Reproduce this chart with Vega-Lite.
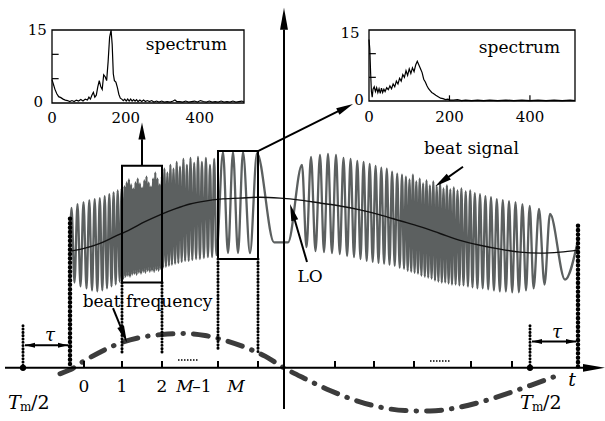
{
"$schema": "https://vega.github.io/schema/vega-lite/v6.json",
"width": 605, "height": 421,
"autosize": {"type": "fit", "contains": "padding"},
"padding": 0,
"background": "white",
"config": {"view": {"stroke": null}},
"datasets": {
"sig": [{"x":70,"y":123},{"x":71.5,"y":163},{"x":74.5,"y":87},{"x":77.5,"y":167},{"x":80.5,"y":83},{"x":83.5,"y":169},{"x":86.5,"y":81},{"x":89.3,"y":171},{"x":92,"y":79},{"x":94.7,"y":172},{"x":97.3,"y":78},{"x":99.8,"y":173},{"x":102.3,"y":79},{"x":104.7,"y":175},{"x":107,"y":81},{"x":109.3,"y":177},{"x":111.5,"y":83},{"x":113.6,"y":179},{"x":115.7,"y":85},{"x":117.7,"y":181},{"x":119.7,"y":88},{"x":121.6,"y":183},{"x":123.4,"y":91},
{"x":124.5,"y":185},{"x":125.6,"y":93},{"x":126.7,"y":189},{"x":127.8,"y":94},{"x":128.9,"y":192},{"x":130.0,"y":93},{"x":131.1,"y":187},{"x":132.2,"y":95},{"x":133.3,"y":183},{"x":134.4,"y":96},{"x":135.5,"y":189},{"x":136.6,"y":95},{"x":137.7,"y":193},{"x":138.8,"y":97},{"x":139.9,"y":188},{"x":141.0,"y":96},{"x":142.1,"y":184},{"x":143.2,"y":98},{"x":144.3,"y":191},{"x":145.4,"y":97},{"x":146.5,"y":195},{"x":147.6,"y":99},{"x":148.7,"y":189},{"x":149.8,"y":98},{"x":150.9,"y":185},{"x":152.0,"y":99},{"x":153.1,"y":193},{"x":154.2,"y":98},{"x":155.3,"y":199},{"x":156.4,"y":100},{"x":157.5,"y":193},{"x":158.6,"y":99},{"x":159.7,"y":187},{"x":160.8,"y":101},{"x":161.9,"y":195},{"x":163.0,"y":102},
{"x":164.4,"y":203},{"x":165.9,"y":103},{"x":167.4,"y":199},{"x":168.9,"y":104},{"x":170.4,"y":207},{"x":171.9,"y":105},{"x":173.5,"y":203},{"x":175.1,"y":106},{"x":176.7,"y":210},{"x":178.3,"y":107},{"x":180,"y":205},{"x":181.7,"y":108},{"x":183.4,"y":213},{"x":185.1,"y":109},{"x":186.9,"y":207},{"x":188.7,"y":109},{"x":190.5,"y":214},{"x":192.3,"y":110},{"x":194.2,"y":209},{"x":196.1,"y":111},{"x":198,"y":215},{"x":199.9,"y":111},{"x":201.9,"y":210},{"x":203.9,"y":112},{"x":205.9,"y":214},{"x":207.9,"y":113},{"x":210,"y":207},{"x":212.1,"y":113},{"x":214.2,"y":213},{"x":216.3,"y":115},
{"x":223,"y":220},{"x":228,"y":117},{"x":233,"y":220},{"x":238,"y":117},{"x":243,"y":220},{"x":250,"y":117},{"x":257,"y":219},{"x":274,"y":128},{"x":288,"y":128},{"x":302,"y":207},
{"x":306.5,"y":123},{"x":311,"y":215},{"x":315.5,"y":119},{"x":320,"y":217},{"x":324,"y":118},{"x":328,"y":218},{"x":332,"y":117},{"x":336,"y":217},{"x":339.8,"y":116},{"x":343.5,"y":214},{"x":347.1,"y":114},{"x":350.6,"y":213},{"x":354,"y":113},{"x":357.3,"y":211},{"x":360.5,"y":111},{"x":363.6,"y":210},{"x":366.7,"y":109},{"x":369.7,"y":208},{"x":372.7,"y":108},{"x":375.6,"y":206},{"x":378.5,"y":107},{"x":381.3,"y":204},{"x":384.1,"y":106},{"x":386.8,"y":203},{"x":389.5,"y":105},{"x":392.1,"y":200},{"x":394.7,"y":104},{"x":397.2,"y":198},{"x":399.7,"y":102},
{"x":402,"y":197},{"x":404,"y":101},{"x":405.9,"y":195},{"x":407.7,"y":99},{"x":409.5,"y":192},{"x":411.2,"y":98},{"x":412.9,"y":197},{"x":414.6,"y":97},{"x":416.3,"y":190},{"x":418,"y":96},{"x":419.7,"y":193},{"x":421.4,"y":94},{"x":423.1,"y":188},{"x":424.8,"y":93},{"x":426.5,"y":191},{"x":428.2,"y":92},{"x":429.9,"y":186},{"x":431.6,"y":91},{"x":433.3,"y":190},{"x":435,"y":89},{"x":436.7,"y":185},{"x":438.4,"y":88},{"x":440.1,"y":189},{"x":441.8,"y":87},{"x":443.5,"y":183},{"x":445.2,"y":87},{"x":446.9,"y":186},{"x":448.6,"y":86},{"x":450.3,"y":182},{"x":452,"y":85},{"x":453.8,"y":184},{"x":455.6,"y":85},{"x":457.5,"y":181},{"x":459.4,"y":84},{"x":461.4,"y":183},{"x":463.5,"y":84},{"x":465.7,"y":180},{"x":467.9,"y":83},{"x":470.2,"y":181},{"x":472.5,"y":82},{"x":474.8,"y":178},{"x":477.4,"y":81},
{"x":480,"y":177},{"x":482.7,"y":81},{"x":485.4,"y":175},{"x":488.2,"y":80},{"x":491,"y":174},{"x":493.9,"y":79},{"x":496.8,"y":172},{"x":499.8,"y":78},{"x":502.8,"y":171},{"x":505.9,"y":78},{"x":509,"y":170},{"x":512.2,"y":77},{"x":515.5,"y":169},{"x":518.9,"y":77},{"x":522.4,"y":167},{"x":526,"y":79},{"x":529.7,"y":165},{"x":533.6,"y":81},{"x":539,"y":162},{"x":544.5,"y":85},{"x":550,"y":157},{"x":565,"y":90},{"x":578,"y":130}],
"lo": [{"x":70,"y":119},{"x":85,"y":122},{"x":100,"y":127},{"x":115,"y":134},{"x":130,"y":141},{"x":145,"y":149},{"x":160,"y":156},{"x":175,"y":162},{"x":190,"y":167},{"x":205,"y":170},{"x":220,"y":172},{"x":240,"y":173},{"x":260,"y":174},{"x":280,"y":173},{"x":300,"y":171},{"x":320,"y":168},{"x":340,"y":165},{"x":360,"y":161},{"x":380,"y":156},{"x":400,"y":150},{"x":420,"y":144},{"x":440,"y":137},{"x":460,"y":130},{"x":480,"y":125},{"x":500,"y":121},{"x":520,"y":118},{"x":540,"y":117},{"x":560,"y":118},{"x":578,"y":120}],
"dd": [{"x":60,"y":-6},{"x":70,"y":-2},{"x":84,"y":7},{"x":100,"y":16},{"x":122,"y":26},{"x":140,"y":31},{"x":162,"y":34},{"x":185,"y":35},{"x":205,"y":33},{"x":225,"y":28},{"x":245,"y":21},{"x":265,"y":12},{"x":284,"y":0},{"x":305,"y":-11},{"x":330,"y":-23},{"x":355,"y":-33},{"x":380,"y":-40},{"x":405,"y":-43.5},{"x":430,"y":-44},{"x":455,"y":-41},{"x":480,"y":-35},{"x":505,"y":-27},{"x":530,"y":-18},{"x":557,"y":-8}],
"axes": [{"x":5,"y":0,"x2":590,"y2":0},{"x":284,"y":345,"x2":284,"y2":-42}],
"ticks": [{"x":84,"y":0,"x2":84,"y2":7},{"x":122,"y":0,"x2":122,"y2":7},{"x":162,"y":0,"x2":162,"y2":7},{"x":218,"y":0,"x2":218,"y2":7},{"x":258,"y":0,"x2":258,"y2":7},{"x":335,"y":0,"x2":335,"y2":7},{"x":374,"y":0,"x2":374,"y2":7},{"x":414,"y":0,"x2":414,"y2":7},{"x":471,"y":0,"x2":471,"y2":7},{"x":512,"y":0,"x2":512,"y2":7}],
"arrows": [{"x":142,"y":206,"x2":142,"y2":233},{"x":258,"y":221,"x2":345.4,"y2":265.2},{"x":307,"y":108,"x2":292.4,"y2":158.8},{"x":463,"y":205,"x2":441.9,"y2":189.9},{"x":113,"y":61,"x2":123.8,"y2":33.9},{"x":25,"y":23,"x2":68,"y2":23},{"x":532,"y":27,"x2":576,"y2":27}],
"dotthick": [{"x":70,"y":152,"x2":70,"y2":0},{"x":578,"y":145,"x2":578,"y2":0}],
"dotmed": [{"x":122,"y":87,"x2":122,"y2":13},{"x":162,"y":87,"x2":162,"y2":13},{"x":218,"y":111,"x2":218,"y2":20},{"x":258,"y":111,"x2":258,"y2":15},{"x":23,"y":43,"x2":23,"y2":0},{"x":530,"y":43,"x2":530,"y2":0}],
"dotsmall": [{"x":178,"y":8,"x2":198,"y2":8},{"x":430,"y":7,"x2":450,"y2":7}],
"boxes": [{"x":122,"y":206,"x2":162,"y2":87},{"x":218,"y":221,"x2":258,"y2":111}],
"axdots": [{"x":23,"y":0},{"x":530,"y":0}],
"headbig": [{"x":284,"y":356,"a":0},{"x":594,"y":0,"a":90}],
"headmed": [{"x":142,"y":241.5,"a":0},{"x":345.4,"y":265.2,"a":63.2},{"x":292.4,"y":158.8,"a":-16.1},{"x":441.9,"y":189.9,"a":234.5},{"x":123.8,"y":33.9,"a":158.2}],
"headsmall": [{"x":30,"y":23,"a":270},{"x":63,"y":23,"a":90},{"x":537,"y":27,"a":270},{"x":571,"y":27,"a":90}],
"words": [{"x":471.5,"y":218,"t":"beat signal"},{"x":147.5,"y":62,"t":"beat frequency"},{"x":310,"y":88,"t":"LO"}],
"nums": [{"x":84,"y":-25,"t":"0"},{"x":122,"y":-25,"t":"1"},{"x":162,"y":-25,"t":"2"},{"x":202,"y":-25,"t":"–1"}],
"itals": [{"x":185,"y":-25,"t":"M"},{"x":236,"y":-25,"t":"M"}],
"taus": [{"x":50,"y":27,"t":"τ"},{"x":557,"y":30,"t":"τ"}],
"tlab": [{"x":572,"y":-18,"t":"t"}],
"bigT": [{"x":8,"y":-42,"t":"T"},{"x":520,"y":-42,"t":"T"}],
"subm": [{"x":20,"y":-44,"t":"m"},{"x":532,"y":-44,"t":"m"}],
"half": [{"x":31,"y":-42,"t":"/2"},{"x":543,"y":-42,"t":"/2"}],
"spec1": [{"f":0,"v":4.8},{"f":4,"v":3.8},{"f":8,"v":2.8},{"f":13,"v":1.9},{"f":18,"v":1.3},{"f":24,"v":1.1},{"f":30,"v":0.8},{"f":36,"v":0.6},{"f":42,"v":0.5},{"f":48,"v":0.3},{"f":54,"v":0.5},{"f":60,"v":0.3},{"f":66,"v":0.6},{"f":72,"v":0.4},{"f":78,"v":0.7},{"f":84,"v":0.4},{"f":90,"v":0.8},{"f":96,"v":0.6},{"f":100,"v":1.2},{"f":104,"v":0.8},{"f":108,"v":1.6},{"f":112,"v":2.2},{"f":116,"v":1.2},{"f":120,"v":1.6},{"f":124,"v":3.3},{"f":128,"v":4.6},{"f":132,"v":3.4},{"f":136,"v":2.8},{"f":140,"v":5.8},{"f":144,"v":5.4},{"f":148,"v":4.6},{"f":152,"v":8.5},{"f":156,"v":13.5},{"f":160,"v":15},{"f":163,"v":12},{"f":166,"v":6},{"f":169,"v":4.6},{"f":173,"v":4.3},{"f":177,"v":3.2},{"f":181,"v":1.8},{"f":185,"v":1.0},{"f":189,"v":0.8},{"f":193,"v":0.5},{"f":197,"v":0.8},{"f":201,"v":0.4},{"f":205,"v":0.8},{"f":209,"v":0.4},{"f":213,"v":0.8},{"f":217,"v":0.4},{"f":221,"v":0.7},{"f":225,"v":0.4},{"f":229,"v":0.7},{"f":233,"v":0.3},{"f":238,"v":0.6},{"f":243,"v":0.3},{"f":248,"v":0.6},{"f":253,"v":0.3},{"f":258,"v":0.5},{"f":264,"v":0.3},{"f":270,"v":0.5},{"f":276,"v":0.2},{"f":283,"v":0.4},{"f":290,"v":0.2},{"f":297,"v":0.4},{"f":304,"v":0.2},{"f":312,"v":0.3},{"f":320,"v":0.2},{"f":328,"v":0.4},{"f":333,"v":0.6},{"f":338,"v":0.3},{"f":346,"v":0.3},{"f":354,"v":0.2},{"f":362,"v":0.4},{"f":370,"v":0.2},{"f":378,"v":0.3},{"f":386,"v":0.4},{"f":394,"v":0.2},{"f":402,"v":0.5},{"f":410,"v":0.3},{"f":418,"v":0.2},{"f":426,"v":0.4},{"f":434,"v":0.2},{"f":442,"v":0.3},{"f":450,"v":0.2},{"f":458,"v":0.4},{"f":466,"v":0.2},{"f":474,"v":0.3},{"f":482,"v":0.2},{"f":490,"v":0.4},{"f":498,"v":0.2},{"f":506,"v":0.3},{"f":514,"v":0.4},{"f":520,"v":0.2}],
"spec2": [{"f":0,"v":13},{"f":2,"v":11},{"f":4,"v":6},{"f":6,"v":2},{"f":8,"v":0.8},{"f":10,"v":2.5},{"f":13,"v":3.0},{"f":16,"v":2.0},{"f":19,"v":2.8},{"f":22,"v":1.8},{"f":25,"v":2.6},{"f":28,"v":1.6},{"f":31,"v":2.7},{"f":34,"v":1.8},{"f":37,"v":2.5},{"f":40,"v":2.0},{"f":44,"v":2.8},{"f":48,"v":2.4},{"f":52,"v":3.2},{"f":56,"v":2.6},{"f":60,"v":3.6},{"f":64,"v":3.0},{"f":68,"v":4.2},{"f":72,"v":3.6},{"f":76,"v":4.8},{"f":80,"v":4.2},{"f":84,"v":5.6},{"f":88,"v":5.0},{"f":92,"v":6.4},{"f":96,"v":5.4},{"f":100,"v":6.8},{"f":104,"v":5.8},{"f":108,"v":7.0},{"f":112,"v":6.2},{"f":116,"v":7.6},{"f":120,"v":8.4},{"f":124,"v":7.6},{"f":128,"v":6.8},{"f":132,"v":6.0},{"f":136,"v":4.6},{"f":140,"v":4.0},{"f":144,"v":3.2},{"f":148,"v":2.6},{"f":152,"v":2.2},{"f":156,"v":1.8},{"f":160,"v":1.6},{"f":166,"v":1.2},{"f":172,"v":0.9},{"f":178,"v":0.6},{"f":184,"v":0.5},{"f":190,"v":0.3},{"f":196,"v":0.4},{"f":202,"v":0.2},{"f":210,"v":0.2},{"f":220,"v":0.3},{"f":230,"v":0.1},{"f":240,"v":0.2},{"f":255,"v":0.1},{"f":270,"v":0.2},{"f":285,"v":0.1},{"f":300,"v":0.2},{"f":320,"v":0.1},{"f":340,"v":0.2},{"f":360,"v":0.1},{"f":380,"v":0.2},{"f":400,"v":0.1},{"f":420,"v":0.2},{"f":440,"v":0.1},{"f":460,"v":0.2},{"f":480,"v":0.1},{"f":500,"v":0.2},{"f":512,"v":0.1}],
"frame1": [{"f":0,"v":0,"f2":520,"v2":15}],
"frame2": [{"f":0,"v":0,"f2":512,"v2":15}],
"itick1": [{"f":0,"v":5,"f2":18,"v2":5},{"f":0,"v":10,"f2":18,"v2":10}],
"itick2": [{"f":0,"v":5,"f2":17,"v2":5},{"f":0,"v":10,"f2":17,"v2":10},{"f":200,"v":0,"f2":200,"v2":1.2},{"f":400,"v":0,"f2":400,"v2":1.2}],
"ilab1": [{"f":-40,"v":14.0,"t":"15"},{"f":-37,"v":-0.8,"t":"0"},{"f":0,"v":-4.1,"t":"0"},{"f":200,"v":-4.1,"t":"200"},{"f":400,"v":-4.1,"t":"400"}],
"ilab2": [{"f":-47,"v":13.3,"t":"15"},{"f":-25,"v":-0.85,"t":"0"},{"f":0,"v":-4.4,"t":"0"},{"f":200,"v":-4.4,"t":"200"},{"f":400,"v":-4.4,"t":"400"}],
"iword1": [{"f":364,"v":10.9,"t":"spectrum"}],
"iword2": [{"f":374,"v":10.1,"t":"spectrum"}]
},
"resolve": {"scale": {"x": "independent", "y": "independent"}},
"layer": [
{
"encoding": {
"x": {"field": "x", "type": "quantitative", "scale": {"domain": [0, 605], "nice": false, "zero": false}, "axis": null},
"y": {"field": "y", "type": "quantitative", "scale": {"domain": [-46, 375], "nice": false, "zero": false}, "axis": null}
},
"layer": [
{"data": {"name": "sig"}, "mark": {"type": "line", "interpolate": "monotone", "color": "#5c6060", "strokeWidth": 2.3}},
{"data": {"name": "lo"}, "mark": {"type": "line", "interpolate": "monotone", "color": "#111111", "strokeWidth": 1.4}},
{"data": {"name": "dd"}, "mark": {"type": "line", "interpolate": "monotone", "color": "#3c3c3c", "strokeWidth": 5, "strokeDash": [15, 10, 0.5, 10], "strokeCap": "round"}},
{"data": {"name": "dotthick"}, "mark": {"type": "rule", "color": "black", "strokeWidth": 4.5, "strokeDash": [0.1, 4.3], "strokeCap": "round"}, "encoding": {"x2": {"field": "x2"}, "y2": {"field": "y2"}}},
{"data": {"name": "dotmed"}, "mark": {"type": "rule", "color": "black", "strokeWidth": 3, "strokeDash": [0.1, 3.2], "strokeCap": "round"}, "encoding": {"x2": {"field": "x2"}, "y2": {"field": "y2"}}},
{"data": {"name": "dotsmall"}, "mark": {"type": "rule", "color": "black", "strokeWidth": 1.5, "strokeDash": [1.5, 1.5]}, "encoding": {"x2": {"field": "x2"}, "y2": {"field": "y2"}}},
{"data": {"name": "axes"}, "mark": {"type": "rule", "color": "black", "strokeWidth": 2}, "encoding": {"x2": {"field": "x2"}, "y2": {"field": "y2"}}},
{"data": {"name": "ticks"}, "mark": {"type": "rule", "color": "black", "strokeWidth": 2}, "encoding": {"x2": {"field": "x2"}, "y2": {"field": "y2"}}},
{"data": {"name": "boxes"}, "mark": {"type": "rect", "filled": false, "stroke": "black", "strokeWidth": 2}, "encoding": {"x2": {"field": "x2"}, "y2": {"field": "y2"}}},
{"data": {"name": "arrows"}, "mark": {"type": "rule", "color": "black", "strokeWidth": 2}, "encoding": {"x2": {"field": "x2"}, "y2": {"field": "y2"}}},
{"data": {"name": "axdots"}, "mark": {"type": "point", "shape": "circle", "filled": true, "size": 40, "color": "black", "opacity": 1}},
{"data": {"name": "headbig"}, "mark": {"type": "point", "shape": "M0,-1L0.36,1L-0.36,1Z", "filled": true, "size": 484, "color": "black", "opacity": 1}, "encoding": {"angle": {"field": "a", "type": "quantitative", "scale": null}}},
{"data": {"name": "headmed"}, "mark": {"type": "point", "shape": "M0,-1L0.42,1L-0.42,1Z", "filled": true, "size": 289, "color": "black", "opacity": 1}, "encoding": {"angle": {"field": "a", "type": "quantitative", "scale": null}}},
{"data": {"name": "headsmall"}, "mark": {"type": "point", "shape": "M0,-1L0.5,1L-0.5,1Z", "filled": true, "size": 100, "color": "black", "opacity": 1}, "encoding": {"angle": {"field": "a", "type": "quantitative", "scale": null}}},
{"data": {"name": "words"}, "mark": {"type": "text", "font": "DejaVu Serif", "fontSize": 17, "align": "center", "baseline": "alphabetic", "color": "black"}, "encoding": {"text": {"field": "t"}}},
{"data": {"name": "nums"}, "mark": {"type": "text", "font": "DejaVu Serif", "fontSize": 17, "align": "center", "baseline": "alphabetic", "color": "black"}, "encoding": {"text": {"field": "t"}}},
{"data": {"name": "itals"}, "mark": {"type": "text", "font": "DejaVu Serif", "fontStyle": "italic", "fontSize": 17, "align": "center", "baseline": "alphabetic", "color": "black"}, "encoding": {"text": {"field": "t"}}},
{"data": {"name": "taus"}, "mark": {"type": "text", "font": "DejaVu Serif", "fontStyle": "italic", "fontSize": 18, "align": "center", "baseline": "alphabetic", "color": "black"}, "encoding": {"text": {"field": "t"}}},
{"data": {"name": "tlab"}, "mark": {"type": "text", "font": "DejaVu Serif", "fontStyle": "italic", "fontSize": 19, "align": "center", "baseline": "alphabetic", "color": "black"}, "encoding": {"text": {"field": "t"}}},
{"data": {"name": "bigT"}, "mark": {"type": "text", "font": "DejaVu Serif", "fontStyle": "italic", "fontSize": 19, "align": "left", "baseline": "alphabetic", "color": "black"}, "encoding": {"text": {"field": "t"}}},
{"data": {"name": "subm"}, "mark": {"type": "text", "font": "DejaVu Serif", "fontSize": 12, "align": "left", "baseline": "alphabetic", "color": "black"}, "encoding": {"text": {"field": "t"}}},
{"data": {"name": "half"}, "mark": {"type": "text", "font": "DejaVu Serif", "fontSize": 19, "align": "left", "baseline": "alphabetic", "color": "black"}, "encoding": {"text": {"field": "t"}}}
]
},
{
"encoding": {
"x": {"field": "f", "type": "quantitative", "scale": {"domain": [0, 520], "range": [52, 244], "nice": false, "zero": false}, "axis": null},
"y": {"field": "v", "type": "quantitative", "scale": {"domain": [0, 15], "range": [103, 30], "nice": false, "zero": false}, "axis": null}
},
"layer": [
{"data": {"name": "frame1"}, "mark": {"type": "rect", "fill": "white", "stroke": "black", "strokeWidth": 1.3}, "encoding": {"x2": {"field": "f2"}, "y2": {"field": "v2"}}},
{"data": {"name": "spec1"}, "mark": {"type": "line", "color": "black", "strokeWidth": 1.2}},
{"data": {"name": "itick1"}, "mark": {"type": "rule", "color": "black", "strokeWidth": 1.2}, "encoding": {"x2": {"field": "f2"}, "y2": {"field": "v2"}}},
{"data": {"name": "ilab1"}, "mark": {"type": "text", "font": "DejaVu Serif", "fontSize": 15, "align": "center", "baseline": "alphabetic", "color": "black"}, "encoding": {"text": {"field": "t"}}},
{"data": {"name": "iword1"}, "mark": {"type": "text", "font": "DejaVu Serif", "fontSize": 17, "align": "center", "baseline": "alphabetic", "color": "black"}, "encoding": {"text": {"field": "t"}}}
]
},
{
"encoding": {
"x": {"field": "f", "type": "quantitative", "scale": {"domain": [0, 512], "range": [369, 575], "nice": false, "zero": false}, "axis": null},
"y": {"field": "v", "type": "quantitative", "scale": {"domain": [0, 15], "range": [101, 30], "nice": false, "zero": false}, "axis": null}
},
"layer": [
{"data": {"name": "frame2"}, "mark": {"type": "rect", "fill": "white", "stroke": "black", "strokeWidth": 1.3}, "encoding": {"x2": {"field": "f2"}, "y2": {"field": "v2"}}},
{"data": {"name": "spec2"}, "mark": {"type": "line", "color": "black", "strokeWidth": 1.2}},
{"data": {"name": "itick2"}, "mark": {"type": "rule", "color": "black", "strokeWidth": 1.2}, "encoding": {"x2": {"field": "f2"}, "y2": {"field": "v2"}}},
{"data": {"name": "ilab2"}, "mark": {"type": "text", "font": "DejaVu Serif", "fontSize": 15, "align": "center", "baseline": "alphabetic", "color": "black"}, "encoding": {"text": {"field": "t"}}},
{"data": {"name": "iword2"}, "mark": {"type": "text", "font": "DejaVu Serif", "fontSize": 17, "align": "center", "baseline": "alphabetic", "color": "black"}, "encoding": {"text": {"field": "t"}}}
]
}
]
}
